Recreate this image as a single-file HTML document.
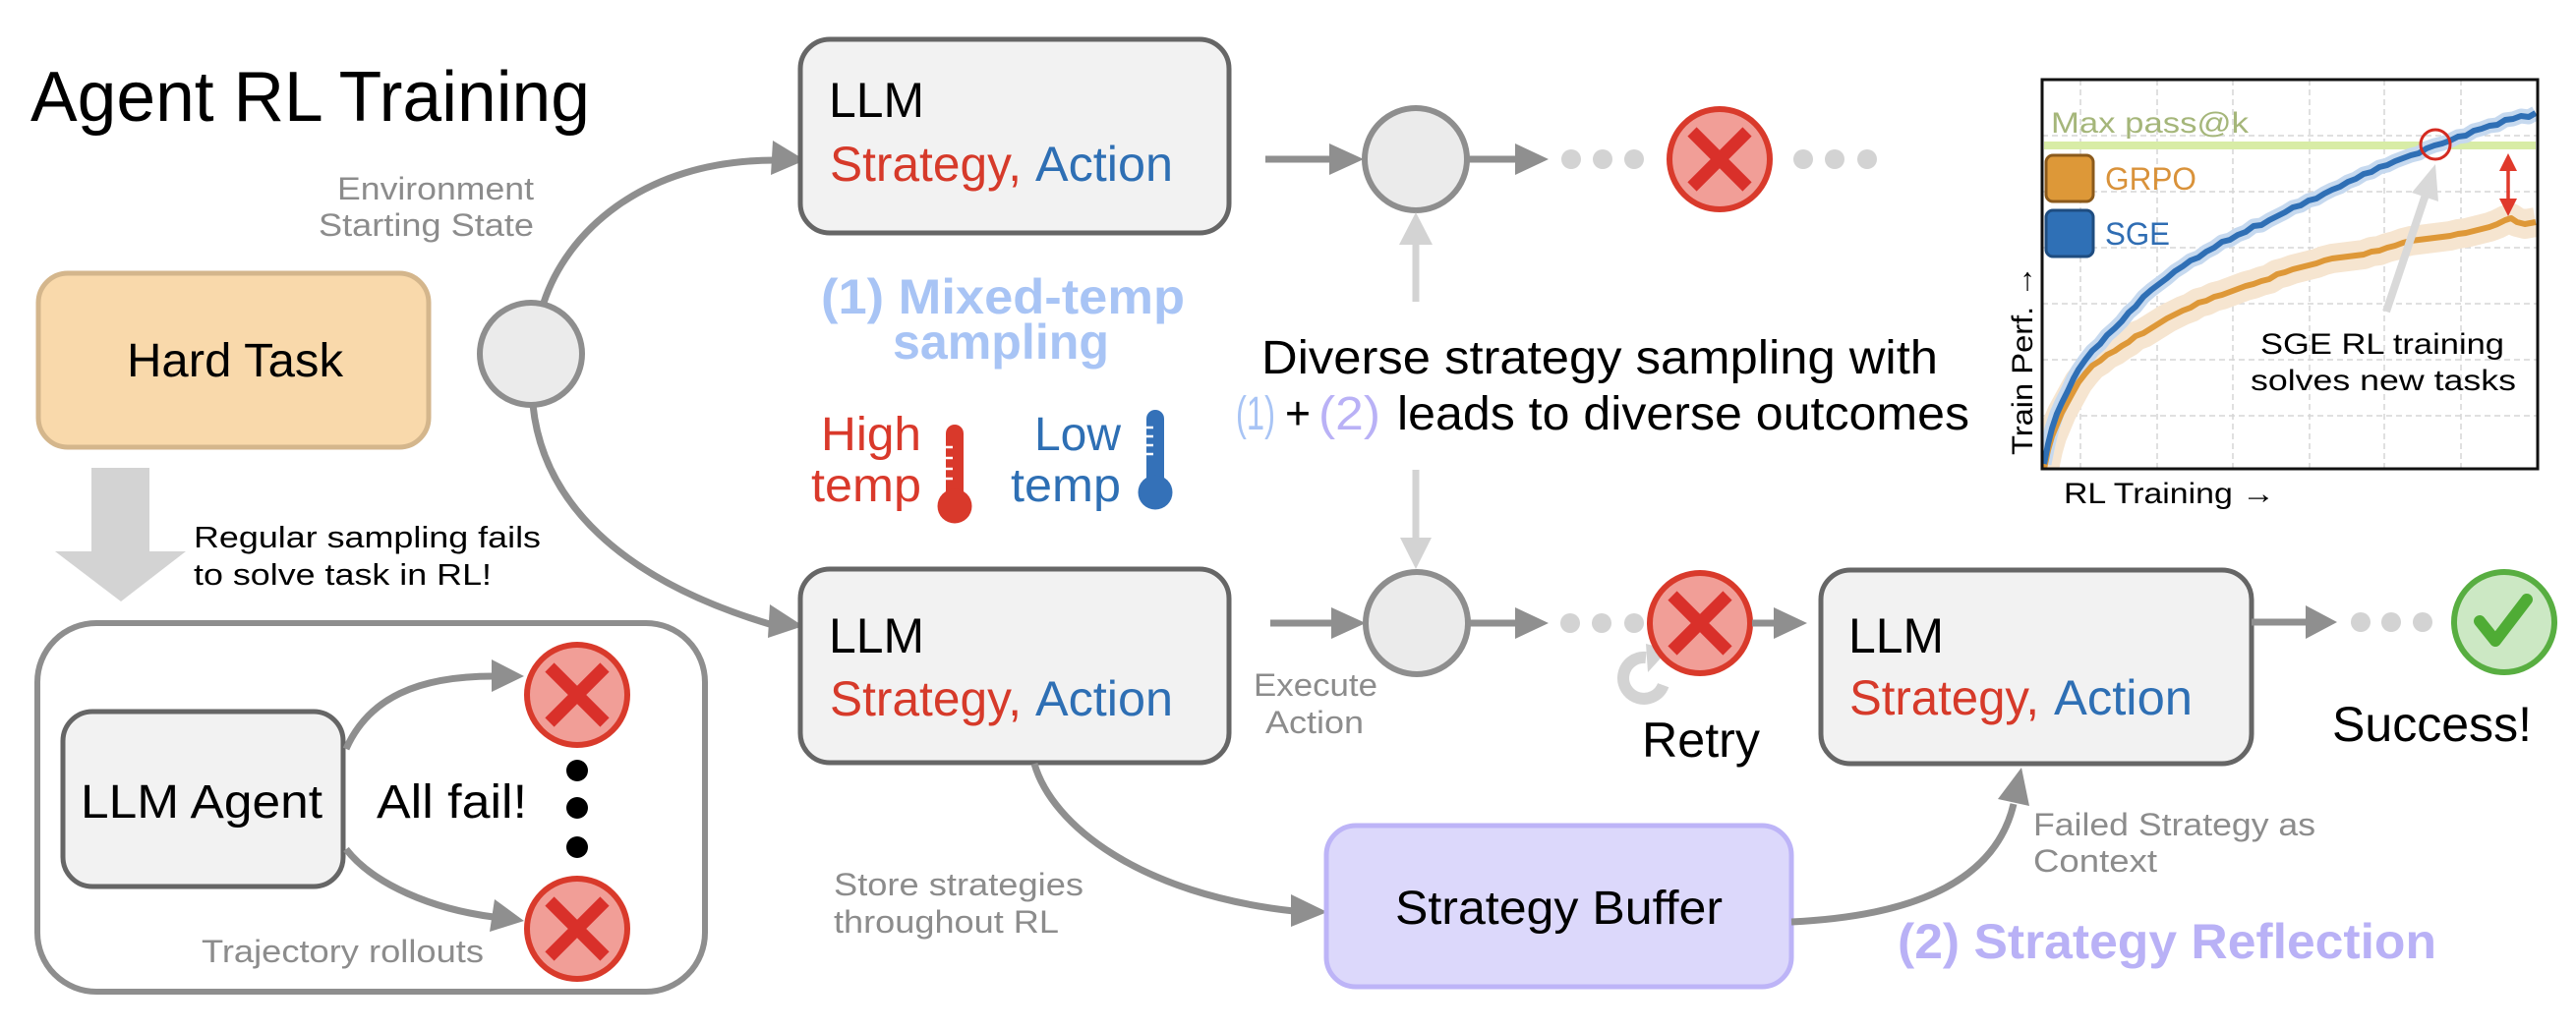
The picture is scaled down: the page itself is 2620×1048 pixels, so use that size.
<!DOCTYPE html>
<html><head><meta charset="utf-8"><style>
html,body{margin:0;padding:0;background:#fff;}
svg{display:block;}
text{font-family:"Liberation Sans",Arial,sans-serif;}
</style></head><body>
<svg width="2620" height="1048" viewBox="0 0 2620 1048" xmlns="http://www.w3.org/2000/svg">
<rect width="2620" height="1048" fill="#fff"/>
<defs>
<clipPath id="cp"><rect x="2078" y="82" width="502" height="394"/></clipPath>
</defs>

<!-- Title -->
<text x="31" y="123" font-size="72" fill="#000" textLength="569" lengthAdjust="spacingAndGlyphs">Agent RL Training</text>

<!-- Environment starting state -->
<text x="543" y="203" font-size="32" fill="#8c8c8c" text-anchor="end" textLength="200" lengthAdjust="spacingAndGlyphs">Environment</text>
<text x="543" y="240" font-size="32" fill="#8c8c8c" text-anchor="end" textLength="219" lengthAdjust="spacingAndGlyphs">Starting State</text>

<!-- Hard Task -->
<rect x="39" y="278" width="397" height="177" rx="30" fill="#f9d9ab" stroke="#d4b68c" stroke-width="5"/>
<text x="129" y="383" font-size="48" fill="#000" textLength="220" lengthAdjust="spacingAndGlyphs">Hard Task</text>

<!-- curves from start circle -->
<path d="M553,308 C575,240 650,163 788,163" fill="none" stroke="#8f8f8f" stroke-width="7"/>
<polygon points="786,143 819,163 784,178" fill="#8f8f8f"/>
<path d="M542,412 C552,510 630,590 786,636" fill="none" stroke="#8f8f8f" stroke-width="7"/>
<polygon points="783,615 817,637 781,649" fill="#8f8f8f"/>
<circle cx="540" cy="360" r="52" fill="#ebebeb" stroke="#8e8e8e" stroke-width="6"/>

<!-- Big down arrow -->
<rect x="93" y="476" width="59" height="86" fill="#d3d3d3"/>
<polygon points="56,561 189,561 123,612" fill="#d3d3d3"/>
<text x="197" y="557" font-size="31" fill="#000" textLength="353" lengthAdjust="spacingAndGlyphs">Regular sampling fails</text>
<text x="197" y="595" font-size="31" fill="#000" textLength="303" lengthAdjust="spacingAndGlyphs">to solve task in RL!</text>

<!-- Trajectory box -->
<rect x="38" y="634" width="679" height="375" rx="60" fill="none" stroke="#8e8e8e" stroke-width="6"/>
<rect x="64" y="724" width="285" height="178" rx="30" fill="#f2f2f2" stroke="#666" stroke-width="5"/>
<text x="82" y="832" font-size="48" fill="#000" textLength="246" lengthAdjust="spacingAndGlyphs">LLM Agent</text>
<text x="383" y="832" font-size="48" fill="#000" textLength="153" lengthAdjust="spacingAndGlyphs">All fail!</text>
<path d="M352,762 C375,710 425,688 502,688" fill="none" stroke="#8f8f8f" stroke-width="7"/>
<polygon points="500,671 533,688 500,704" fill="#8f8f8f"/>
<path d="M352,864 C380,900 440,925 502,933" fill="none" stroke="#8f8f8f" stroke-width="7"/>
<polygon points="503,915 533,937 498,948" fill="#8f8f8f"/>
<g>
<circle cx="587" cy="707" r="51" fill="#f19e97" stroke="#d93a2b" stroke-width="6"/>
<path d="M559,679 L615,735 M615,679 L559,735" stroke="#d9302a" stroke-width="13"/>
<circle cx="587" cy="945" r="51" fill="#f19e97" stroke="#d93a2b" stroke-width="6"/>
<path d="M559,917 L615,973 M615,917 L559,973" stroke="#d9302a" stroke-width="13"/>
</g>
<circle cx="587" cy="784" r="11" fill="#000"/>
<circle cx="587" cy="822" r="11" fill="#000"/>
<circle cx="587" cy="862" r="11" fill="#000"/>
<text x="205" y="979" font-size="32" fill="#8c8c8c" textLength="287" lengthAdjust="spacingAndGlyphs">Trajectory rollouts</text>

<!-- Top LLM box -->
<rect x="814" y="40" width="436" height="197" rx="30" fill="#f2f2f2" stroke="#666" stroke-width="5"/>
<text x="843" y="119" font-size="50" fill="#000" textLength="97" lengthAdjust="spacingAndGlyphs">LLM</text>
<text x="844" y="184" font-size="50" fill="#d63a2a" textLength="195" lengthAdjust="spacingAndGlyphs">Strategy,</text>
<text x="1053" y="184" font-size="50" fill="#2e6fb4" textLength="140" lengthAdjust="spacingAndGlyphs">Action</text>

<!-- Second LLM box -->
<rect x="814" y="579" width="436" height="197" rx="30" fill="#f2f2f2" stroke="#666" stroke-width="5"/>
<text x="843" y="664" font-size="50" fill="#000" textLength="97" lengthAdjust="spacingAndGlyphs">LLM</text>
<text x="844" y="728" font-size="50" fill="#d63a2a" textLength="195" lengthAdjust="spacingAndGlyphs">Strategy,</text>
<text x="1053" y="728" font-size="50" fill="#2e6fb4" textLength="140" lengthAdjust="spacingAndGlyphs">Action</text>

<!-- Mixed temp -->
<text x="1020" y="319" font-size="50" font-weight="bold" fill="#a8c4f5" text-anchor="middle" textLength="370" lengthAdjust="spacingAndGlyphs">(1) Mixed-temp</text>
<text x="1018" y="365" font-size="50" font-weight="bold" fill="#a8c4f5" text-anchor="middle" textLength="220" lengthAdjust="spacingAndGlyphs">sampling</text>
<text x="937" y="458" font-size="48" fill="#d9392b" text-anchor="end" textLength="102" lengthAdjust="spacingAndGlyphs">High</text>
<text x="937" y="510" font-size="48" fill="#d9392b" text-anchor="end" textLength="112" lengthAdjust="spacingAndGlyphs">temp</text>
<text x="1140" y="458" font-size="48" fill="#2e6fb4" text-anchor="end" textLength="88" lengthAdjust="spacingAndGlyphs">Low</text>
<text x="1140" y="510" font-size="48" fill="#2e6fb4" text-anchor="end" textLength="112" lengthAdjust="spacingAndGlyphs">temp</text>
<!-- thermometers -->
<rect x="962" y="432" width="18" height="84" rx="9" fill="#d9392b"/>
<circle cx="971" cy="515" r="17.5" fill="#d9392b"/>
<path d="M962,455 h7 M962,466 h7 M962,477 h7 M962,487 h7" stroke="#fff" stroke-width="2.5"/>
<rect x="1166" y="417" width="18" height="84" rx="9" fill="#3471b8"/>
<circle cx="1175" cy="501" r="17.5" fill="#3471b8"/>
<path d="M1166,435 h7 M1166,444 h7 M1166,453 h7 M1166,462 h7" stroke="#fff" stroke-width="2.5"/>

<!-- Top flow -->
<line x1="1287" y1="162" x2="1354" y2="162" stroke="#8f8f8f" stroke-width="7"/>
<polygon points="1352,146 1387,162 1352,178" fill="#8f8f8f"/>
<circle cx="1440" cy="162" r="52" fill="#ebebeb" stroke="#8e8e8e" stroke-width="6"/>
<line x1="1493" y1="162" x2="1543" y2="162" stroke="#8f8f8f" stroke-width="7"/>
<polygon points="1541,146 1575,162 1541,178" fill="#8f8f8f"/>
<circle cx="1598" cy="162" r="10" fill="#d3d3d3"/>
<circle cx="1630" cy="162" r="10" fill="#d3d3d3"/>
<circle cx="1662" cy="162" r="10" fill="#d3d3d3"/>
<circle cx="1749" cy="162" r="51" fill="#f19e97" stroke="#d93a2b" stroke-width="6"/>
<path d="M1721,134 L1777,190 M1777,134 L1721,190" stroke="#d9302a" stroke-width="13"/>
<circle cx="1834" cy="162" r="10" fill="#d3d3d3"/>
<circle cx="1866" cy="162" r="10" fill="#d3d3d3"/>
<circle cx="1899" cy="162" r="10" fill="#d3d3d3"/>

<!-- vertical light arrows -->
<line x1="1440" y1="307" x2="1440" y2="246" stroke="#d3d3d3" stroke-width="7"/>
<polygon points="1423,249 1440,216 1457,249" fill="#d3d3d3"/>
<line x1="1440" y1="478" x2="1440" y2="549" stroke="#d3d3d3" stroke-width="7"/>
<polygon points="1424,547 1440,579 1456,547" fill="#d3d3d3"/>

<!-- Diverse text -->
<text x="1283" y="380" font-size="48" fill="#000" textLength="688" lengthAdjust="spacingAndGlyphs">Diverse strategy sampling with</text>
<text x="1257" y="437" font-size="48" fill="#a8c4f5" textLength="40" lengthAdjust="spacingAndGlyphs">(1)</text>
<text x="1307" y="437" font-size="48" fill="#000" textLength="26" lengthAdjust="spacingAndGlyphs">+</text>
<text x="1341" y="437" font-size="48" fill="#b9b1f6" textLength="63" lengthAdjust="spacingAndGlyphs">(2)</text>
<text x="1421" y="437" font-size="48" fill="#000" textLength="582" lengthAdjust="spacingAndGlyphs">leads to diverse outcomes</text>

<!-- Bottom flow -->
<line x1="1292" y1="634" x2="1356" y2="634" stroke="#8f8f8f" stroke-width="7"/>
<polygon points="1354,618 1389,634 1354,650" fill="#8f8f8f"/>
<circle cx="1441" cy="634" r="52" fill="#ebebeb" stroke="#8e8e8e" stroke-width="6"/>
<line x1="1493" y1="634" x2="1543" y2="634" stroke="#8f8f8f" stroke-width="7"/>
<polygon points="1541,618 1575,634 1541,650" fill="#8f8f8f"/>
<circle cx="1597" cy="634" r="10" fill="#d3d3d3"/>
<circle cx="1629" cy="634" r="10" fill="#d3d3d3"/>
<circle cx="1662" cy="634" r="10" fill="#d3d3d3"/>
<!-- retry icon -->
<path d="M1691.7,697.2 A21 21 0 1 1 1674,669" fill="none" stroke="#d3d3d3" stroke-width="12"/>
<polygon points="1674,655 1697,661 1676,684" fill="#d3d3d3"/>
<circle cx="1729" cy="634" r="51" fill="#f19e97" stroke="#d93a2b" stroke-width="6"/>
<path d="M1701,606 L1757,662 M1757,606 L1701,662" stroke="#d9302a" stroke-width="13"/>
<line x1="1782" y1="634" x2="1806" y2="634" stroke="#8f8f8f" stroke-width="7"/>
<polygon points="1804,618 1838,634 1804,650" fill="#8f8f8f"/>

<text x="1338" y="708" font-size="32" fill="#8c8c8c" text-anchor="middle" textLength="126" lengthAdjust="spacingAndGlyphs">Execute</text>
<text x="1337" y="746" font-size="32" fill="#8c8c8c" text-anchor="middle" textLength="100" lengthAdjust="spacingAndGlyphs">Action</text>
<text x="1670" y="770" font-size="50" fill="#000" textLength="120" lengthAdjust="spacingAndGlyphs">Retry</text>

<!-- Third LLM box -->
<rect x="1852" y="580" width="438" height="197" rx="30" fill="#f2f2f2" stroke="#666" stroke-width="5"/>
<text x="1880" y="664" font-size="50" fill="#000" textLength="97" lengthAdjust="spacingAndGlyphs">LLM</text>
<text x="1881" y="727" font-size="50" fill="#d63a2a" textLength="193" lengthAdjust="spacingAndGlyphs">Strategy,</text>
<text x="2089" y="727" font-size="50" fill="#2e6fb4" textLength="141" lengthAdjust="spacingAndGlyphs">Action</text>

<line x1="2290" y1="633" x2="2347" y2="633" stroke="#8f8f8f" stroke-width="7"/>
<polygon points="2345,616 2377,633 2345,650" fill="#8f8f8f"/>
<circle cx="2401" cy="633" r="10" fill="#d3d3d3"/>
<circle cx="2432" cy="633" r="10" fill="#d3d3d3"/>
<circle cx="2464" cy="633" r="10" fill="#d3d3d3"/>
<circle cx="2547" cy="633" r="51" fill="#cce8c4" stroke="#58ae41" stroke-width="6"/>
<path d="M2522,632 L2538,652 L2570,610" fill="none" stroke="#4fac35" stroke-width="12" stroke-linecap="round" stroke-linejoin="round"/>
<text x="2372" y="754" font-size="50" fill="#000" textLength="203" lengthAdjust="spacingAndGlyphs">Success!</text>

<!-- Strategy buffer -->
<path d="M1052,777 C1070,840 1160,910 1316,927" fill="none" stroke="#8f8f8f" stroke-width="7"/>
<polygon points="1313,910 1350,928 1313,943" fill="#8f8f8f"/>
<rect x="1349" y="840" width="473" height="164" rx="30" fill="#dcd8fb" stroke="#bdb4f7" stroke-width="5"/>
<text x="1419" y="940" font-size="48" fill="#000" textLength="333" lengthAdjust="spacingAndGlyphs">Strategy Buffer</text>
<path d="M1822,938 C1950,932 2030,895 2048,818" fill="none" stroke="#8f8f8f" stroke-width="7"/>
<polygon points="2064,820 2056,781 2032,813" fill="#8f8f8f"/>

<text x="848" y="911" font-size="32" fill="#8c8c8c" textLength="254" lengthAdjust="spacingAndGlyphs">Store strategies</text>
<text x="848" y="949" font-size="32" fill="#8c8c8c" textLength="229" lengthAdjust="spacingAndGlyphs">throughout RL</text>
<text x="2068" y="850" font-size="32" fill="#8c8c8c" textLength="287" lengthAdjust="spacingAndGlyphs">Failed Strategy as</text>
<text x="2068" y="887" font-size="32" fill="#8c8c8c" textLength="126" lengthAdjust="spacingAndGlyphs">Context</text>
<text x="1930" y="975" font-size="50" font-weight="bold" fill="#b9b1f6" textLength="548" lengthAdjust="spacingAndGlyphs">(2) Strategy Reflection</text>

<!-- Chart -->
<rect x="2077" y="81" width="504" height="396" fill="#fff"/>
<g stroke="#d6d6d6" stroke-width="1.5" stroke-dasharray="6,4">
<line x1="2116" y1="81" x2="2116" y2="477"/><line x1="2194" y1="81" x2="2194" y2="477"/>
<line x1="2271" y1="81" x2="2271" y2="477"/><line x1="2349" y1="81" x2="2349" y2="477"/>
<line x1="2425" y1="81" x2="2425" y2="477"/><line x1="2503" y1="81" x2="2503" y2="477"/>
<line x1="2077" y1="138" x2="2581" y2="138"/><line x1="2077" y1="195" x2="2581" y2="195"/>
<line x1="2077" y1="252" x2="2581" y2="252"/><line x1="2077" y1="309" x2="2581" y2="309"/>
<line x1="2077" y1="366" x2="2581" y2="366"/><line x1="2077" y1="423" x2="2581" y2="423"/>
</g>
<line x1="2079" y1="148" x2="2579" y2="148" stroke="#d8eca6" stroke-width="8"/>
<text x="2086" y="135" font-size="30" fill="#a5b67a" textLength="201" lengthAdjust="spacingAndGlyphs">Max pass@k</text>
<g clip-path="url(#cp)" fill="none" stroke-linejoin="round">
<polyline stroke="#f6e5d0" stroke-width="30" points="2079,477 2083,458 2087,444 2092,432 2097,420 2103,409 2109,398 2114,389 2121,380 2128,372 2136,367 2143,361 2151,357 2158,352 2165,348 2172,342 2180,339 2188,334 2196,329 2204,324 2212,320 2220,316 2228,313 2236,308 2244,306 2252,302 2260,300 2268,297 2276,294 2284,291 2292,289 2300,286 2308,284 2316,279 2324,277 2332,274 2340,272 2348,270 2356,268 2364,265 2372,263 2380,262 2388,261 2396,260 2404,259 2412,256 2420,255 2428,252 2436,250 2444,247 2452,245 2460,244 2468,243 2476,242 2484,241 2492,240 2500,238 2508,237 2516,235 2524,233 2532,231 2540,228 2548,224 2554,222 2560,226 2568,228 2579,226"/>
<polyline stroke="#c6d9ef" stroke-width="15" points="2079,472 2083,452 2087,436 2092,421 2097,410 2103,398 2109,385 2114,376 2121,366 2128,357 2136,350 2143,341 2151,334 2158,327 2165,318 2172,312 2180,302 2188,295 2196,289 2204,283 2212,276 2220,271 2228,265 2236,262 2244,256 2252,252 2260,246 2268,244 2276,239 2284,236 2292,230 2300,229 2308,224 2316,220 2324,216 2332,211 2340,209 2348,204 2356,202 2364,197 2372,193 2380,190 2388,185 2396,182 2404,177 2412,175 2420,170 2428,168 2436,164 2444,161 2452,158 2460,156 2468,151 2476,148 2484,146 2492,143 2500,139 2508,138 2516,133 2524,131 2532,128 2540,127 2548,122 2556,121 2564,118 2572,119 2579,115"/>
<polyline stroke="#de9838" stroke-width="6" points="2079,477 2083,458 2087,444 2092,432 2097,420 2103,409 2109,398 2114,389 2121,380 2128,372 2136,367 2143,361 2151,357 2158,352 2165,348 2172,342 2180,339 2188,334 2196,329 2204,324 2212,320 2220,316 2228,313 2236,308 2244,306 2252,302 2260,300 2268,297 2276,294 2284,291 2292,289 2300,286 2308,284 2316,279 2324,277 2332,274 2340,272 2348,270 2356,268 2364,265 2372,263 2380,262 2388,261 2396,260 2404,259 2412,256 2420,255 2428,252 2436,250 2444,247 2452,245 2460,244 2468,243 2476,242 2484,241 2492,240 2500,238 2508,237 2516,235 2524,233 2532,231 2540,228 2548,224 2554,222 2560,226 2568,228 2579,226"/>
<polyline stroke="#2f6fb5" stroke-width="6" points="2079,472 2083,452 2087,436 2092,421 2097,410 2103,398 2109,385 2114,376 2121,366 2128,357 2136,350 2143,341 2151,334 2158,327 2165,318 2172,312 2180,302 2188,295 2196,289 2204,283 2212,276 2220,271 2228,265 2236,262 2244,256 2252,252 2260,246 2268,244 2276,239 2284,236 2292,230 2300,229 2308,224 2316,220 2324,216 2332,211 2340,209 2348,204 2356,202 2364,197 2372,193 2380,190 2388,185 2396,182 2404,177 2412,175 2420,170 2428,168 2436,164 2444,161 2452,158 2460,156 2468,151 2476,148 2484,146 2492,143 2500,139 2508,138 2516,133 2524,131 2532,128 2540,127 2548,122 2556,121 2564,118 2572,119 2579,115"/>
</g>
<rect x="2081" y="158" width="48" height="47" rx="7" fill="#dd9838" stroke="#8b5a1c" stroke-width="3"/>
<rect x="2081" y="214" width="48" height="47" rx="7" fill="#2f70b6" stroke="#1f4d80" stroke-width="3"/>
<text x="2141" y="193" font-size="32" fill="#d9923a" textLength="93" lengthAdjust="spacingAndGlyphs">GRPO</text>
<text x="2141" y="249" font-size="32" fill="#2f6db3" textLength="66" lengthAdjust="spacingAndGlyphs">SGE</text>
<!-- gray pointer arrow -->
<line x1="2427" y1="317" x2="2467" y2="198" stroke="#d9d9d9" stroke-width="8"/>
<polygon points="2477,167 2480,205 2453,196" fill="#d9d9d9"/>
<circle cx="2477" cy="147" r="15" fill="none" stroke="#d42a20" stroke-width="3"/>
<!-- red double arrow -->
<line x1="2551" y1="170" x2="2551" y2="206" stroke="#e0392b" stroke-width="3.5"/>
<polygon points="2542,174 2551,156 2560,174" fill="#e0392b"/>
<polygon points="2542,202 2551,220 2560,202" fill="#e0392b"/>
<text x="2423" y="360" font-size="30" fill="#000" text-anchor="middle" textLength="248" lengthAdjust="spacingAndGlyphs">SGE RL training</text>
<text x="2424" y="397" font-size="30" fill="#000" text-anchor="middle" textLength="270" lengthAdjust="spacingAndGlyphs">solves new tasks</text>
<rect x="2077" y="81" width="504" height="396" fill="none" stroke="#111" stroke-width="3"/>
<text x="2099" y="512" font-size="30" fill="#000" textLength="215" lengthAdjust="spacingAndGlyphs">RL Training →</text>
<text transform="translate(2067,463) rotate(-90)" x="0" y="0" font-size="30" fill="#000" textLength="193" lengthAdjust="spacingAndGlyphs">Train Perf. →</text>
</svg>
</body></html>
